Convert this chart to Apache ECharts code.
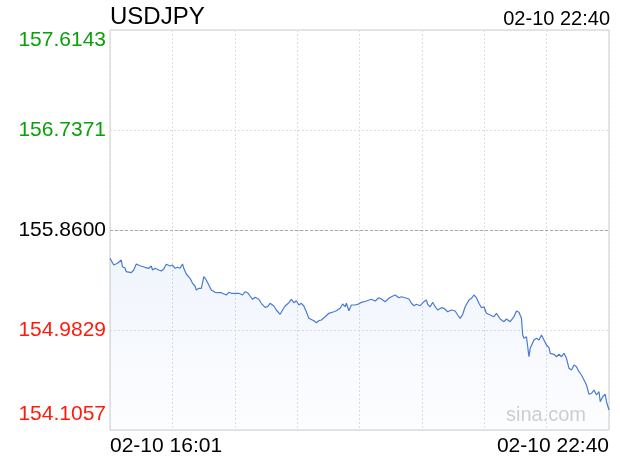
<!DOCTYPE html>
<html>
<head>
<meta charset="utf-8">
<style>html,body{margin:0;padding:0;background:#fff;}#c{width:620px;height:460px;}</style>
<script src="https://cdn.jsdelivr.net/npm/echarts@6/dist/echarts.min.js"></script>
</head>
<body>
<div id="c"></div>
<script>
var title = 'USDJPY';
var timeStamp = '02-10 22:40';
var prevClose = 155.8600;
var yTickLabels = ['154.1057', '154.9829', '155.8600', '156.7371', '157.6143'];
var xTickLabels = ['02-10 16:01', '02-10 22:40'];
var minutes = [0,3,6,9,10,12,13,17,19,21,24,28,31,33,34,36,39,41,43,45,48,50,52,54,56,58,59,61,64,66,68,69,71,73,75,77,79,81,84,87,89,93,95,97,99,100,103,106,108,110,112,114,116,119,121,124,126,128,129,131,133,136,138,140,143,145,147,149,151,153,155,157,159,163,165,167,169,172,175,179,181,184,186,188,189,191,193,196,199,201,205,209,212,215,217,220,223,225,228,231,233,236,239,241,243,245,248,251,253,254,256,258,260,262,265,267,270,273,276,278,280,282,284,287,289,291,293,295,297,299,301,304,307,309,312,315,317,320,323,325,327,329,330,331,333,335,336,339,341,343,345,347,349,351,352,355,357,359,361,363,365,367,369,371,373,375,377,379,381,383,385,387,389,391,392,394,396,397,399];
var prices = [155.6118,155.5530,155.5679,155.5968,155.5381,155.5267,155.4942,155.4854,155.5091,155.5618,155.5468,155.5328,155.5240,155.5442,155.5091,155.5240,155.5091,155.5004,155.5179,155.5591,155.5442,155.5530,155.5240,155.5328,155.5240,155.5618,155.5240,155.4740,155.4363,155.3924,155.3688,155.3337,155.3486,155.3486,155.4503,155.4214,155.3775,155.3337,155.3135,155.3100,155.3100,155.2898,155.3135,155.3047,155.3047,155.2986,155.3047,155.2898,155.3187,155.3100,155.2810,155.2521,155.2696,155.2521,155.2170,155.1819,155.1872,155.2170,155.2223,155.1933,155.1582,155.1205,155.1582,155.1933,155.2223,155.2521,155.2223,155.2398,155.2021,155.2170,155.1933,155.1433,155.0854,155.0644,155.0468,155.0644,155.0705,155.0995,155.1293,155.1433,155.1521,155.1731,155.2109,155.1872,155.2170,155.1521,155.2021,155.2021,155.2120,155.2258,155.2372,155.2521,155.2372,155.2661,155.2547,155.2310,155.2609,155.2749,155.2898,155.2661,155.2749,155.2661,155.2547,155.2170,155.1960,155.2082,155.1960,155.2310,155.2460,155.2082,155.1872,155.2258,155.1872,155.1582,155.1784,155.1731,155.1433,155.1582,155.1495,155.1144,155.0854,155.1205,155.1872,155.2460,155.2609,155.2898,155.2661,155.2170,155.1784,155.1872,155.1293,155.1144,155.0995,155.1293,155.0793,155.0556,155.0793,155.0556,155.0995,155.1495,155.1380,155.0854,154.9390,154.9100,154.9240,154.7486,154.8223,154.8951,154.9100,154.8951,154.9390,154.8951,154.8512,154.8276,154.7784,154.7697,154.7486,154.7697,154.7486,154.7784,154.7346,154.6469,154.6319,154.6758,154.6609,154.6170,154.5881,154.5442,154.5004,154.4188,154.4276,154.4565,154.4127,154.4416,154.3539,154.3977,154.4188,154.3539,154.2811];

var yMin = parseFloat(yTickLabels[0]);
var yMax = parseFloat(yTickLabels[yTickLabels.length - 1]);
var lastMinute = minutes[minutes.length - 1];
var FONT = '"Liberation Sans", Arial, Helvetica, sans-serif';

var chart = echarts.init(document.getElementById('c'), null, {renderer: 'canvas'});
var seriesData = minutes.map(function (m, i) { return [m, prices[i]]; });

function nearestLabel(v) {
  var best = 0, bd = Infinity;
  yTickLabels.forEach(function (t, i) { var d = Math.abs(parseFloat(t) - v); if (d < bd) { bd = d; best = i; } });
  return best;
}

chart.setOption({
  animation: false,
  backgroundColor: '#ffffff',
  title: [
    {text: title, left: 105, top: 0, textStyle: {fontFamily: FONT, fontSize: 24, fontWeight: 'normal', color: '#000'}},
    {text: timeStamp, right: 5, top: 4, textStyle: {fontFamily: FONT, fontSize: 20, fontWeight: 'normal', color: '#000'}}
  ],
  graphic: [{
    type: 'text', right: 34, top: 405, silent: true,
    style: {text: 'sina.com', fontFamily: FONT, fontSize: 20, fill: '#cfcfcf'}
  }],
  grid: {left: 110, right: 11, top: 30, bottom: 30, show: true, borderColor: '#cccccc', borderWidth: 1, containLabel: false},
  xAxis: {
    type: 'value', min: 0, max: lastMinute, interval: lastMinute / 8,
    axisLine: {show: false}, axisTick: {show: false},
    splitLine: {show: true, lineStyle: {color: '#dddddd', type: [2, 2], width: 1}},
    axisLabel: {
      show: true, margin: 6, fontFamily: FONT, fontSize: 21, color: '#000',
      alignMinLabel: 'left', alignMaxLabel: 'right',
      formatter: function (v) {
        if (Math.abs(v) < 1e-6) return xTickLabels[0];
        if (Math.abs(v - lastMinute) < 1e-6) return xTickLabels[1];
        return '';
      }
    }
  },
  yAxis: {
    type: 'value', min: yMin, max: yMax, interval: (yMax - yMin) / 4,
    axisLine: {show: false}, axisTick: {show: false},
    splitLine: {show: true, lineStyle: {color: '#dddddd', type: [2, 2], width: 1}},
    axisLabel: {
      show: true, margin: 4, fontFamily: FONT, fontSize: 21,
      verticalAlignMinLabel: 'bottom', verticalAlignMaxLabel: 'top',
      formatter: function (v) {
        var i = nearestLabel(v);
        return i === 0 ? '{lo|' + yTickLabels[i] + '}' : yTickLabels[i];
      },
      rich: {lo: {fontFamily: FONT, fontSize: 21, padding: [0, 0, 5, 0]}},
      color: function (v) {
        if (Math.abs(v - prevClose) < 0.01) return '#000000';
        return v > prevClose ? '#0aa00a' : '#ff1a0a';
      }
    }
  },
  series: [{
    type: 'line', data: seriesData, showSymbol: false, symbol: 'none',
    lineStyle: {color: '#4a7bd0', width: 1.2},
    areaStyle: {
      origin: 'start',
      color: new echarts.graphic.LinearGradient(0, 0, 0, 1, [
        {offset: 0, color: 'rgba(90,140,225,0.13)'},
        {offset: 1, color: 'rgba(90,140,225,0.02)'}
      ])
    },
    markLine: {
      silent: true, symbol: 'none', label: {show: false},
      lineStyle: {color: '#aaaaaa', type: [3, 2], width: 1},
      data: [{yAxis: prevClose}]
    }
  }]
});
</script>
</body>
</html>
